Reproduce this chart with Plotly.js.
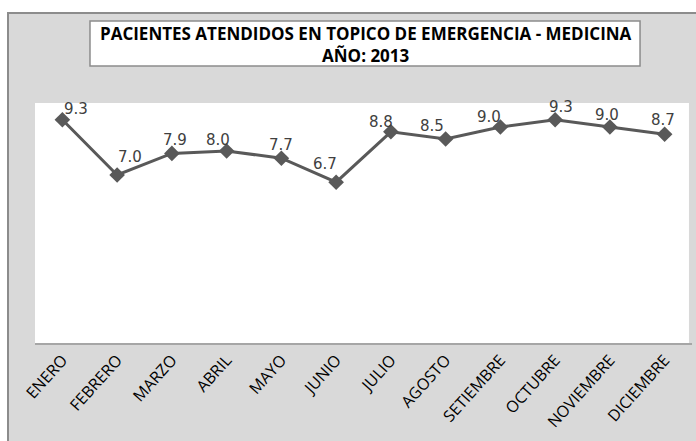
<!DOCTYPE html>
<html>
<head>
<meta charset="utf-8">
<script src="https://cdn.plot.ly/plotly-3.0.1.min.js"></script>
<style>html,body{margin:0;padding:0;background:#fff;}#chart{width:696px;height:441px;}</style>
</head>
<body>
<div id="chart"></div>
<script>
const months = ["ENERO","FEBRERO","MARZO","ABRIL","MAYO","JUNIO","JULIO","AGOSTO","SETIEMBRE","OCTUBRE","NOVIEMBRE","DICIEMBRE"];
const pacientes = [9.3, 7.0, 7.9, 8.0, 7.7, 6.7, 8.8, 8.5, 9.0, 9.3, 9.0, 8.7];
const titleLines = ["PACIENTES ATENDIDOS EN TOPICO DE EMERGENCIA - MEDICINA", "AÑO: 2013"];

// pixel nudges of each data label relative to its point (style only)
const labelDx = [14, 13, 3, -9, 0, -11, -10, -14, -11, 6, -3, -2];
const labelDy = [0, 7, 2, 0, 2, 7, -1, 2, -1, 2, 1, 3];

const trace = {
  x: months, y: pacientes, type: 'scatter', mode: 'lines+markers',
  line: {color: '#595959', width: 3},
  marker: {symbol: 'diamond', size: 12, color: '#595959'},
  hoverinfo: 'none'
};

const labelAnn = months.map((m, i) => ({
  x: m, y: pacientes[i], xref: 'x', yref: 'y',
  text: pacientes[i].toFixed(1), showarrow: false,
  xanchor: 'center', yanchor: 'bottom', xshift: labelDx[i], yshift: labelDy[i],
  font: {family: 'DejaVu Sans', size: 15, color: '#404040'}
}));

const titleAnn = [{
  xref: 'paper', yref: 'paper', x: 0.5038, y: (343 - 45) / 240,
  xanchor: 'center', yanchor: 'middle', showarrow: false,
  text: '<b>' + titleLines.join('<br>') + '</b>',
  font: {family: 'Open Sans', size: 17, color: '#000'}
}];

const layout = {
  width: 696, height: 441,
  margin: {l: 35, r: 4, t: 103, b: 98},
  paper_bgcolor: '#ffffff', plot_bgcolor: '#ffffff',
  showlegend: false,
  xaxis: {
    type: 'category', range: [-0.5, 11.5], tickangle: -48, showgrid: false, zeroline: false,
    showline: true, linecolor: '#a6a6a6', linewidth: 1.5, ticks: '',
    tickfont: {family: 'Open Sans', size: 16, color: '#000'}, ticklabelstandoff: 0
  },
  yaxis: {range: [0, 10], visible: false, fixedrange: true},
  shapes: [
    {type: 'rect', xref: 'paper', yref: 'paper', x0: -0.0411, x1: 1.02, y0: -0.45, y1: 1.375,
     fillcolor: '#d9d9d9', line: {color: '#8c8c8c', width: 2}, layer: 'below'},
    {type: 'rect', xref: 'paper', yref: 'paper', x0: 0, x1: 0.9954, y0: 0, y1: 1,
     fillcolor: '#ffffff', line: {width: 0}, layer: 'below'},
    {type: 'rect', xref: 'paper', yref: 'paper', x0: 0.0837, x1: 0.9209, y0: 1.154, y1: 1.3417,
     fillcolor: '#ffffff', line: {color: '#8c8c8c', width: 1.5}, layer: 'above'}
  ],
  annotations: labelAnn.concat(titleAnn)
};

Plotly.newPlot('chart', [trace], layout, {displayModeBar: false, staticPlot: true});
</script>
</body>
</html>
